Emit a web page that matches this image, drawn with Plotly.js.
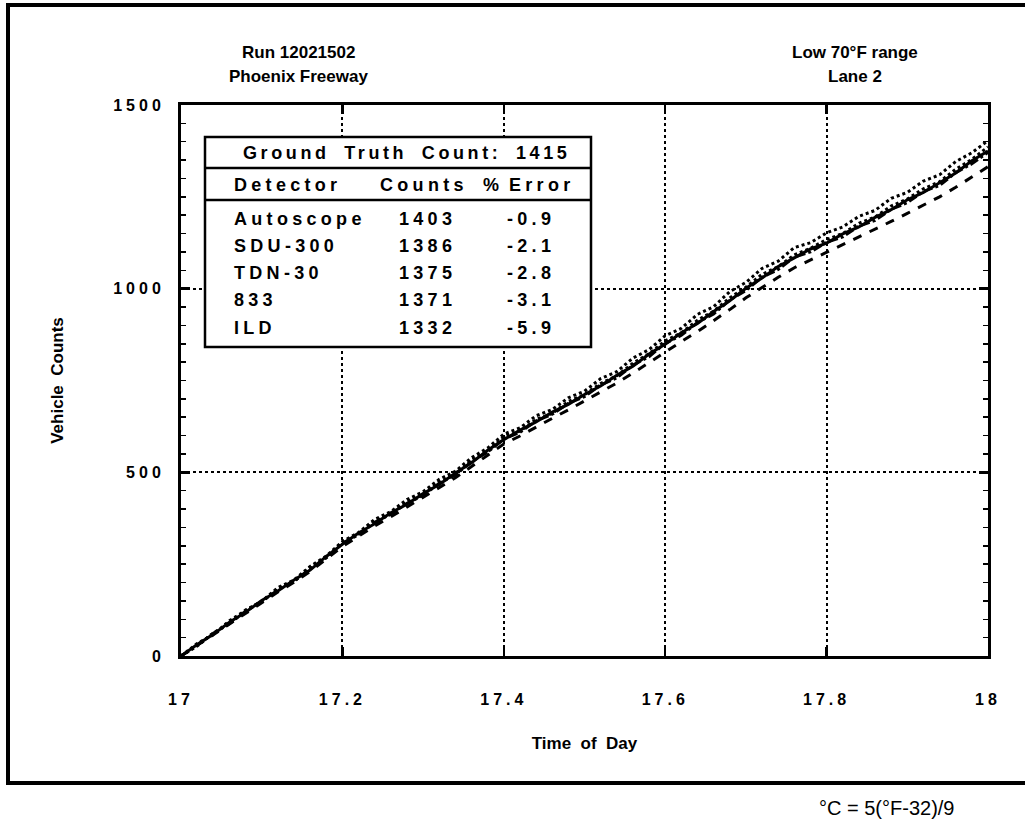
<!DOCTYPE html>
<html>
<head>
<meta charset="utf-8">
<script src="https://cdn.plot.ly/plotly-3.0.1.min.js"></script>
<style>
  html, body { margin: 0; padding: 0; background: #fff; }
  #chart { width: 1025px; height: 825px; }
  .xtick text, .ytick text { letter-spacing: 4px; }
</style>
</head>
<body>
<div id="chart"></div>
<script>
// ---- Data ----
const time = [17.00, 17.02, 17.04, 17.06, 17.08, 17.10, 17.12, 17.14, 17.16, 17.18,
              17.20, 17.22, 17.24, 17.26, 17.28, 17.30, 17.32, 17.34, 17.36, 17.38,
              17.40, 17.42, 17.44, 17.46, 17.48, 17.50, 17.52, 17.54, 17.56, 17.58,
              17.60, 17.62, 17.64, 17.66, 17.68, 17.70, 17.72, 17.74, 17.76, 17.78,
              17.80, 17.82, 17.84, 17.86, 17.88, 17.90, 17.92, 17.94, 17.96, 17.98, 18.00];

const autoscope = [0, 34, 58, 96, 124, 149, 186, 207, 244, 272,
                   312, 336, 372, 393, 426, 447, 481, 503, 540, 566,
                   604, 621, 654, 671, 703, 721, 755, 774, 811, 834,
                   872, 892, 930, 951, 992, 1017, 1055, 1075, 1112, 1125,
                   1152, 1168, 1197, 1213, 1246, 1262, 1293, 1310, 1346, 1370, 1403];

const sdu300 = [0, 27, 63, 88, 125, 148, 183, 203, 240, 268,
                310, 332, 367, 386, 419, 439, 474, 494, 533, 556,
                597, 612, 644, 660, 693, 712, 742, 763, 797, 823,
                858, 880, 914, 939, 975, 1004, 1039, 1060, 1092, 1110,
                1134, 1150, 1178, 1195, 1225, 1244, 1272, 1291, 1325, 1352, 1386];

const tdn30 = [0, 31, 59, 92, 119, 151, 177, 207, 234, 271,
               304, 335, 360, 390, 413, 442, 467, 498, 526, 560,
               589, 615, 637, 664, 685, 712, 735, 764, 789, 822,
               849, 880, 905, 938, 967, 1001, 1029, 1060, 1084, 1108,
               1124, 1149, 1168, 1194, 1215, 1242, 1262, 1289, 1315, 1348, 1375];

const d833 = [0, 29, 62, 88, 122, 148, 180, 203, 237, 267,
              307, 330, 364, 386, 416, 437, 470, 493, 529, 555,
              591, 609, 640, 658, 688, 706, 738, 757, 792, 815,
              851, 873, 908, 931, 969, 995, 1031, 1052, 1086, 1100,
              1126, 1141, 1170, 1186, 1216, 1234, 1265, 1281, 1316, 1340, 1371];

const ild = [0, 29, 58, 88, 117, 147, 174, 201, 230, 264,
             298, 326, 354, 379, 405, 431, 458, 485, 516, 546,
             577, 599, 624, 647, 670, 694, 718, 743, 770, 799,
             829, 856, 883, 912, 943, 975, 1004, 1031, 1057, 1078,
             1097, 1118, 1139, 1160, 1183, 1205, 1227, 1250, 1276, 1304, 1332];

const xTickVals = [17, 17.2, 17.4, 17.6, 17.8, 18];
const xTickText = ['17', '17.2', '17.4', '17.6', '17.8', '18'];
const yTickVals = [0, 500, 1000, 1500];
const yTickText = ['0', '500', '1000', '1500'];

const groundTruth = 1415;
const detectors = ['Autoscope', 'SDU-300', 'TDN-30', '833', 'ILD'];
const counts = [1403, 1386, 1375, 1371, 1332];
const pctError = ['-0.9', '-2.1', '-2.8', '-3.1', '-5.9'];

// ---- Geometry helpers (pixel -> paper) ----
const PL = 181, PR = 988, PT = 105, PB = 656;
const px = p => (p - PL) / (PR - PL);
const py = p => (PB - p) / (PB - PT);

const FONT = 'Liberation Sans, Arial, sans-serif';
const BLACK = '#000';

const seriesList = [
  {name: 'Autoscope', y: autoscope, dash: 'dot', width: 3},
  {name: 'SDU-300', y: sdu300, dash: 'dot', width: 3},
  {name: 'TDN-30', y: tdn30, dash: 'solid', width: 3},
  {name: '833', y: d833, dash: 'dashdot', width: 3},
  {name: 'ILD', y: ild, dash: 'dash', width: 3}
];

const traces = seriesList.map(s => ({
  type: 'scatter', mode: 'lines', name: s.name,
  x: time, y: s.y,
  line: {color: BLACK, width: s.width, dash: s.dash},
  hoverinfo: 'skip'
}));

// ---- Table and text annotations ----
const annotations = [];
const spaced = [];
function ann(text, xp, yp, opts) {
  annotations.push(Object.assign({
    text: text, xref: 'paper', yref: 'paper', x: xp, y: yp,
    showarrow: false, xanchor: 'left', yanchor: 'middle', align: 'left',
    font: {family: FONT, size: 18, color: BLACK, weight: 'bold'}
  }, opts || {}));
  return annotations.length - 1;
}

const titleFont = {family: FONT, size: 17, color: BLACK, weight: 'bold'};
ann('Run 12021502', px(298), py(53), {xanchor: 'center', align: 'center', font: titleFont});
ann('Phoenix Freeway', px(298), py(77), {xanchor: 'center', align: 'center', font: titleFont});
ann('Low 70°F range', px(855), py(53), {xanchor: 'center', align: 'center', font: titleFont});
ann('Lane 2', px(855), py(77), {xanchor: 'center', align: 'center', font: titleFont});
ann('°C = 5(°F-32)/9', px(956), py(808), {xanchor: 'right', align: 'right',
    font: {family: FONT, size: 20, color: BLACK, weight: 'normal'}});

const gtIdx = ann('Ground Truth Count: ' + groundTruth, px(241), py(153));
spaced.push(ann('Detector', px(232), py(185)));
spaced.push(ann('Counts', px(378), py(185)));
spaced.push(ann('%', px(481), py(185)));
spaced.push(ann('Error', px(507), py(185)));
const rowY = [219, 246, 273, 300, 328];
detectors.forEach((d, i) => {
  spaced.push(ann(d, px(232), py(rowY[i])));
  spaced.push(ann(String(counts[i]), px(397), py(rowY[i])));
  spaced.push(ann(pctError[i], px(505), py(rowY[i])));
});

// letter-spacing for table text
const st = document.createElement('style');
st.textContent = spaced.map(i => 'g.annotation[data-index="' + i + '"] text{letter-spacing:4.3px;}').join('\n') +
  '\ng.annotation[data-index="' + gtIdx + '"] text{letter-spacing:3.6px;word-spacing:6px;}';
document.head.appendChild(st);

const shapes = [
  // table box
  {type: 'rect', xref: 'paper', yref: 'paper', x0: px(205), x1: px(591), y0: py(347), y1: py(137),
   line: {color: BLACK, width: 2.5}, fillcolor: '#fff', layer: 'above'},
  {type: 'line', xref: 'paper', yref: 'paper', x0: px(205), x1: px(591), y0: py(168), y1: py(168),
   line: {color: BLACK, width: 2.5}},
  {type: 'line', xref: 'paper', yref: 'paper', x0: px(205), x1: px(591), y0: py(200), y1: py(200),
   line: {color: BLACK, width: 2.5}},
  // outer frame
  {type: 'rect', xref: 'paper', yref: 'paper', x0: px(8), x1: px(1030), y0: py(783), y1: py(5),
   line: {color: BLACK, width: 4}}
];

const layout = {
  width: 1025, height: 825,
  margin: {l: PL, r: 1025 - PR, t: PT, b: 825 - PB, pad: 0},
  paper_bgcolor: '#fff', plot_bgcolor: '#fff',
  showlegend: false,
  font: {family: FONT, color: BLACK},
  xaxis: {
    range: [17, 18], tickvals: xTickVals, ticktext: xTickText,
    showline: true, linecolor: BLACK, linewidth: 3, mirror: 'allticks',
    ticks: 'inside', ticklen: 9, tickwidth: 2.5, tickcolor: BLACK,
    showgrid: true, gridcolor: BLACK, gridwidth: 2, griddash: 'dot',
    zeroline: false, ticklabelstandoff: 27,
    tickfont: {family: FONT, size: 16, color: BLACK, weight: 'bold'},
    title: {text: 'Time  of  Day', standoff: 30,
            font: {family: FONT, size: 17, color: BLACK, weight: 'bold'}},
    automargin: false
  },
  yaxis: {
    range: [0, 1500], tickvals: yTickVals, ticktext: yTickText,
    showline: true, linecolor: BLACK, linewidth: 3, mirror: 'allticks',
    ticks: 'inside', ticklen: 9, tickwidth: 2.5, tickcolor: BLACK,
    minor: {dtick: 50, ticks: 'inside', ticklen: 5, tickwidth: 1.5, tickcolor: BLACK, showgrid: false},
    showgrid: true, gridcolor: BLACK, gridwidth: 2, griddash: 'dot',
    zeroline: false, ticklabelstandoff: 10,
    tickfont: {family: FONT, size: 16, color: BLACK, weight: 'bold'},
    title: {text: 'Vehicle  Counts', standoff: 46,
            font: {family: FONT, size: 17, color: BLACK, weight: 'bold'}},
    automargin: false
  },
  shapes: shapes,
  annotations: annotations
};

Plotly.newPlot('chart', traces, layout, {displayModeBar: false, staticPlot: true});
</script>
</body>
</html>
